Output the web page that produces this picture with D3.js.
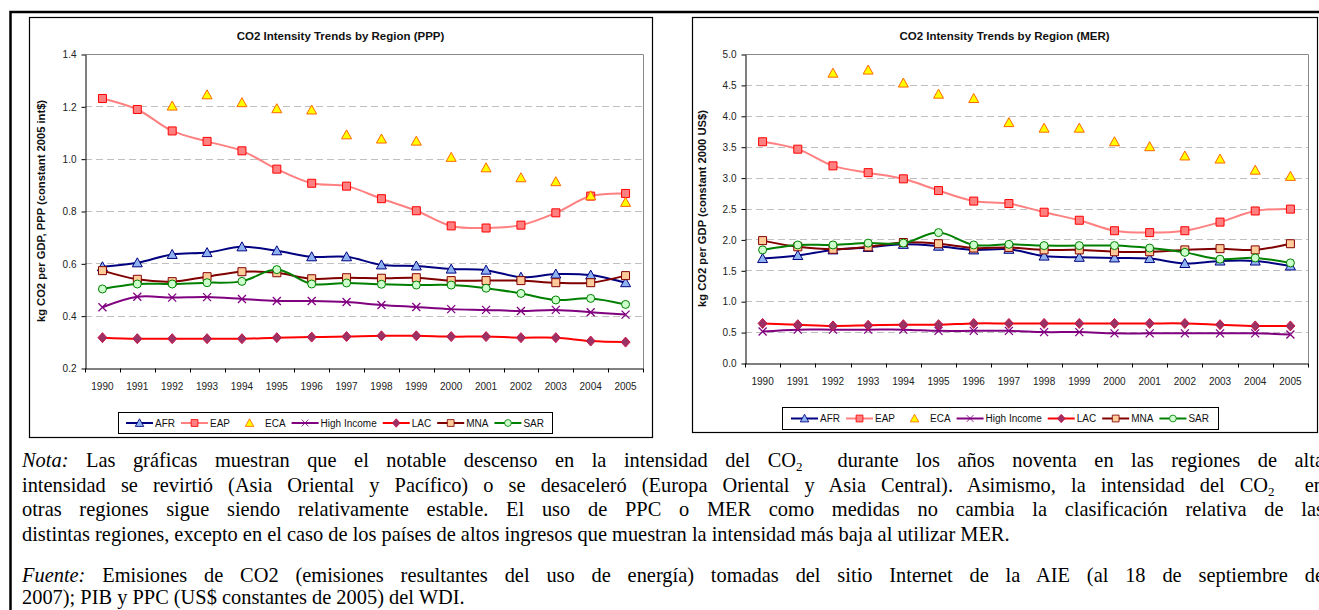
<!DOCTYPE html>
<html>
<head>
<meta charset="utf-8">
<title>CO2 Intensity Trends by Region</title>
<script src="https://d3js.org/d3.v7.min.js"></script>
<style>
  body { margin: 0; background: #fff; overflow: hidden; }
  svg { display: block; }
</style>
</head>
<body>
<div id="chart"></div>
<script>
// categories
const years = ['1990', '1991', '1992', '1993', '1994', '1995', '1996', '1997',
               '1998', '1999', '2000', '2001', '2002', '2003', '2004', '2005'];
const regions = ['AFR', 'EAP', 'ECA', 'High Income', 'LAC', 'MNA', 'SAR'];

// kg CO2 per GDP, PPP (constant 2005 int$)
const pppAFR  = [0.587, 0.602, 0.634, 0.641, 0.663, 0.648, 0.625, 0.625, 0.594, 0.590, 0.578, 0.574, 0.547, 0.559, 0.555, 0.526];
const pppEAP  = [1.230, 1.188, 1.106, 1.066, 1.030, 0.960, 0.906, 0.895, 0.847, 0.801, 0.743, 0.735, 0.746, 0.793, 0.857, 0.867];
const pppECA  = [null, null, 1.201, 1.244, 1.214, 1.191, 1.186, 1.091, 1.075, 1.067, 1.005, 0.965, 0.927, 0.912, 0.858, 0.833];
const pppHigh = [0.432, 0.472, 0.469, 0.471, 0.464, 0.456, 0.456, 0.452, 0.441, 0.433, 0.425, 0.422, 0.418, 0.422, 0.413, 0.404];
const pppLAC  = [0.316, 0.312, 0.312, 0.312, 0.312, 0.316, 0.318, 0.320, 0.323, 0.323, 0.320, 0.320, 0.316, 0.316, 0.303, 0.299];
const pppMNA  = [0.572, 0.539, 0.530, 0.549, 0.568, 0.564, 0.541, 0.545, 0.543, 0.545, 0.534, 0.534, 0.534, 0.526, 0.526, 0.553];
const pppSAR  = [0.502, 0.521, 0.521, 0.526, 0.531, 0.576, 0.521, 0.525, 0.520, 0.517, 0.517, 0.505, 0.485, 0.460, 0.466, 0.443];

// kg CO2 per GDP (constant 2000 US$)
const merAFR  = [1.69, 1.74, 1.83, 1.87, 1.92, 1.89, 1.83, 1.84, 1.73, 1.71, 1.70, 1.69, 1.61, 1.65, 1.65, 1.57];
const merEAP  = [3.58, 3.46, 3.19, 3.08, 2.98, 2.79, 2.62, 2.58, 2.44, 2.31, 2.14, 2.11, 2.14, 2.28, 2.46, 2.49];
const merECA  = [null, null, 4.69, 4.74, 4.53, 4.35, 4.28, 3.89, 3.80, 3.80, 3.58, 3.50, 3.35, 3.30, 3.12, 3.02];
const merHigh = [0.51, 0.54, 0.54, 0.54, 0.54, 0.52, 0.52, 0.52, 0.50, 0.50, 0.48, 0.48, 0.48, 0.48, 0.48, 0.46];
const merLAC  = [0.64, 0.62, 0.60, 0.61, 0.62, 0.62, 0.64, 0.64, 0.64, 0.64, 0.64, 0.64, 0.64, 0.62, 0.60, 0.60];
const merMNA  = [1.98, 1.88, 1.84, 1.88, 1.95, 1.93, 1.86, 1.87, 1.83, 1.83, 1.80, 1.80, 1.83, 1.85, 1.83, 1.93];
const merSAR  = [1.83, 1.91, 1.91, 1.94, 1.94, 2.11, 1.91, 1.92, 1.90, 1.90, 1.90, 1.86, 1.79, 1.68, 1.70, 1.62];

// y tick labels
const pppTicks = [0.2, 0.4, 0.6, 0.8, 1.0, 1.2, 1.4];
const merTicks = [0.0, 0.5, 1.0, 1.5, 2.0, 2.5, 3.0, 3.5, 4.0, 4.5, 5.0];

// look of each series (line colour, marker shape and colours)
const styles = {
  'AFR':         { line: '#000080', shape: 'triangle', fill: '#8fb3f0', stroke: '#000080' },
  'EAP':         { line: '#ff8080', shape: 'square',   fill: '#ff8080', stroke: '#ff0000' },
  'ECA':         { line: null,      shape: 'triangle', fill: '#ffff00', stroke: '#ff6600' },
  'High Income': { line: '#800080', shape: 'x',        fill: 'none',    stroke: '#800080' },
  'LAC':         { line: '#ff0000', shape: 'diamond',  fill: '#993366', stroke: '#cc1144' },
  'MNA':         { line: '#800000', shape: 'square',   fill: '#ffcc99', stroke: '#800000' },
  'SAR':         { line: '#008000', shape: 'circle',   fill: '#ccffcc', stroke: '#008000' }
};

const markerPath = {
  triangle: 'M0,-5L5,4L-5,4Z',
  square:   'M-4,-4H4V4H-4Z',
  diamond:  'M0,-5L4.5,0L0,5L-4.5,0Z',
  circle:   'M4,0A4,4 0 1,1 -4,0A4,4 0 1,1 4,0Z',
  x:        'M-4,-4L4,4M-4,4L4,-4'
};

const W = 1319, H = 610;
const sansFont = "'Liberation Sans', Arial, sans-serif";
const serifFont = "'Liberation Serif', 'Times New Roman', serif";

const svg = d3.select('#chart').append('svg')
  .attr('width', W).attr('height', H);

// outer frame
svg.append('path')
  .attr('d', `M10.5,${H}V12H${W + 5}`)
  .attr('fill', 'none').attr('stroke', '#000').attr('stroke-width', 2.5);

function drawChart(cfg) {
  const f = cfg.frame, p = cfg.plot;
  const g = svg.append('g');

  g.append('rect')
    .attr('x', f.x0 + 0.5).attr('y', f.y0 + 0.5)
    .attr('width', f.x1 - f.x0).attr('height', f.y1 - f.y0)
    .attr('fill', '#fff').attr('stroke', '#000').attr('stroke-width', 1.2);

  g.append('text')
    .attr('x', (f.x0 + f.x1) / 2).attr('y', 40)
    .attr('text-anchor', 'middle')
    .style('font', `bold 11.5px ${sansFont}`)
    .attr('fill', '#111')
    .text(cfg.title);

  const x = d3.scaleBand().domain(years).range([p.left, p.right]);
  const y = d3.scaleLinear().domain(cfg.yDomain).range([p.bottom, p.top]);
  const cx = d => x(d) + x.bandwidth() / 2;

  // gridlines
  g.append('g').selectAll('line')
    .data(cfg.ticks.filter(t => t > cfg.yDomain[0] && t < cfg.yDomain[1]))
    .enter().append('line')
    .attr('x1', p.left).attr('x2', p.right)
    .attr('y1', d => Math.round(y(d)) + 0.5).attr('y2', d => Math.round(y(d)) + 0.5)
    .attr('stroke', '#c0c0c0').attr('stroke-dasharray', '7,4');

  // plot area border (top and right)
  g.append('path')
    .attr('d', `M${p.left},${p.top + 0.5}H${p.right + 0.5}V${p.bottom}`)
    .attr('fill', 'none').attr('stroke', '#8a8a8a');

  // y axis
  const yAxis = g.append('g')
    .attr('transform', `translate(${p.left + 0.5},0.5)`)
    .call(d3.axisLeft(y).tickValues(cfg.ticks).tickFormat(d3.format('.1f'))
      .tickSizeInner(4).tickSizeOuter(0).tickPadding(5));
  yAxis.select('.domain').attr('stroke', '#000');
  yAxis.selectAll('line').attr('stroke', '#000');
  yAxis.selectAll('text').style('font', `10px ${sansFont}`).attr('fill', '#222');

  // x axis: labels at band centres, ticks at band edges
  const xAxis = g.append('g')
    .attr('transform', `translate(0,${p.bottom + 0.5})`)
    .call(d3.axisBottom(x).tickSize(0).tickPadding(cfg.xPad));
  xAxis.select('.domain').attr('stroke', '#000');
  xAxis.selectAll('text').style('font', `10px ${sansFont}`).attr('fill', '#222');
  xAxis.append('g').selectAll('line')
    .data(years.map(d => x(d)).concat([x(years[years.length - 1]) + x.bandwidth()]))
    .enter().append('line')
    .attr('x1', d => Math.round(d) + 0.5).attr('x2', d => Math.round(d) + 0.5)
    .attr('y1', 0).attr('y2', 4).attr('stroke', '#000');

  // y axis title
  g.append('text')
    .attr('transform', `translate(${cfg.yTitleX},${(p.top + p.bottom) / 2}) rotate(-90)`)
    .attr('text-anchor', 'middle')
    .style('font', `bold 11.2px ${sansFont}`)
    .attr('fill', '#111')
    .text(cfg.yTitle);

  // series
  const line = d3.line()
    .defined(d => d.v != null)
    .x(d => cx(d.year)).y(d => y(d.v))
    .curve(d3.curveCatmullRom.alpha(0.5));

  regions.forEach((name, i) => {
    const st = styles[name];
    const pts = years.map((yr, j) => ({ year: yr, v: cfg.values[i][j] }));
    const sg = g.append('g');
    if (st.line) {
      sg.append('path').datum(pts)
        .attr('d', line)
        .attr('fill', 'none').attr('stroke', st.line).attr('stroke-width', 2);
    }
    sg.selectAll('path.mk').data(pts.filter(d => d.v != null))
      .enter().append('path').attr('class', 'mk')
      .attr('transform', d => `translate(${cx(d.year)},${y(d.v)})`)
      .attr('d', markerPath[st.shape])
      .attr('fill', st.fill).attr('stroke', st.stroke)
      .attr('stroke-width', st.shape === 'x' ? 1.3 : 1);
  });

  // legend
  const lg = cfg.legend;
  const leg = g.append('g');
  leg.append('rect')
    .attr('x', lg.x + 0.5).attr('y', lg.y + 0.5)
    .attr('width', lg.w).attr('height', lg.h)
    .attr('fill', '#fff').attr('stroke', '#000');
  const items = leg.append('g');
  let offset = 0;
  const midY = lg.y + lg.h / 2 + 0.5;
  regions.forEach(name => {
    const st = styles[name];
    const it = items.append('g').attr('transform', `translate(${offset},0)`);
    if (st.line) {
      it.append('line').attr('x1', 0).attr('x2', 27).attr('y1', midY).attr('y2', midY)
        .attr('stroke', st.line).attr('stroke-width', 2);
    }
    it.append('path')
      .attr('transform', `translate(13.5,${midY}) scale(0.85)`)
      .attr('d', markerPath[st.shape])
      .attr('fill', st.fill).attr('stroke', st.stroke);
    const t = it.append('text')
      .attr('x', 29).attr('y', midY + 3.5)
      .style('font', `10px ${sansFont}`).attr('fill', '#111')
      .text(name);
    offset += 29 + t.node().getComputedTextLength() + 6;
  });
  const total = offset - 6;
  items.attr('transform', `translate(${lg.x + (lg.w - total) / 2},0)`);
}

drawChart({
  title: 'CO2 Intensity Trends by Region (PPP)',
  yTitle: 'kg CO2 per GDP, PPP (constant 2005 int$)',
  yTitleX: 45,
  frame: { x0: 29, y0: 17, x1: 652, y1: 437 },
  plot: { left: 85, right: 643, top: 54, bottom: 368 },
  yDomain: [0.2, 1.4],
  ticks: pppTicks,
  xPad: 14,
  values: [pppAFR, pppEAP, pppECA, pppHigh, pppLAC, pppMNA, pppSAR],
  legend: { x: 118, y: 412, w: 434, h: 21 }
});

drawChart({
  title: 'CO2 Intensity Trends by Region (MER)',
  yTitle: 'kg CO2 per GDP (constant 2000 US$)',
  yTitleX: 706,
  frame: { x0: 692, y0: 17, x1: 1317, y1: 432 },
  plot: { left: 745, right: 1308, top: 54, bottom: 363 },
  yDomain: [0, 5],
  ticks: merTicks,
  xPad: 14,
  values: [merAFR, merEAP, merECA, merHigh, merLAC, merMNA, merSAR],
  legend: { x: 782, y: 407, w: 436, h: 22 }
});

// note under the charts
const noteLines = [
  { y: 467, justify: true, parts: [
    { t: 'Nota:', it: true },
    { t: ' Las gráficas muestran que el notable descenso en la intensidad del CO' },
    { t: '2', sub: true },
    { t: '\u00a0 durante los años noventa en las regiones de alta' }] },
  { y: 491.5, justify: true, parts: [
    { t: 'intensidad se revirtió (Asia Oriental y Pacífico) o se desaceleró (Europa Oriental y Asia Central). Asimismo, la intensidad del CO' },
    { t: '2', sub: true },
    { t: '\u00a0 en' }] },
  { y: 516, justify: true, parts: [
    { t: 'otras regiones sigue siendo relativamente estable. El uso de PPC o MER como medidas no cambia la clasificación relativa de las' }] },
  { y: 540.5, justify: false, parts: [
    { t: 'distintas regiones, excepto en el caso de los países de altos ingresos que muestran la intensidad más baja al utilizar MER.' }] },
  { y: 582, justify: true, parts: [
    { t: 'Fuente:', it: true },
    { t: ' Emisiones de CO2 (emisiones resultantes del uso de energía) tomadas del sitio Internet de la AIE (al 18 de septiembre de' }] },
  { y: 604, justify: false, parts: [
    { t: '2007); PIB y PPC (US$ constantes de 2005) del WDI.' }] }
];

const noteX = 22, noteRight = 1324;
noteLines.forEach(ln => {
  const t = svg.append('text')
    .attr('x', noteX).attr('y', ln.y)
    .style('font', `20.4px ${serifFont}`).attr('fill', '#000');
  let shifted = false;
  ln.parts.forEach(pt => {
    const ts = t.append('tspan').text(pt.t);
    if (pt.it) ts.style('font-style', 'italic');
    if (pt.sub) { ts.style('font-size', '13px').attr('dy', 4); shifted = true; }
    else if (shifted) { ts.attr('dy', -4); shifted = false; }
  });
  if (ln.justify) {
    const len = t.node().getComputedTextLength();
    const full = ln.parts.map(p => p.t).join('');
    const gaps = (full.match(/[ \u00a0]/g) || []).length;
    t.attr('word-spacing', (noteRight - noteX - len) / gaps);
  }
});
</script>
</body>
</html>
